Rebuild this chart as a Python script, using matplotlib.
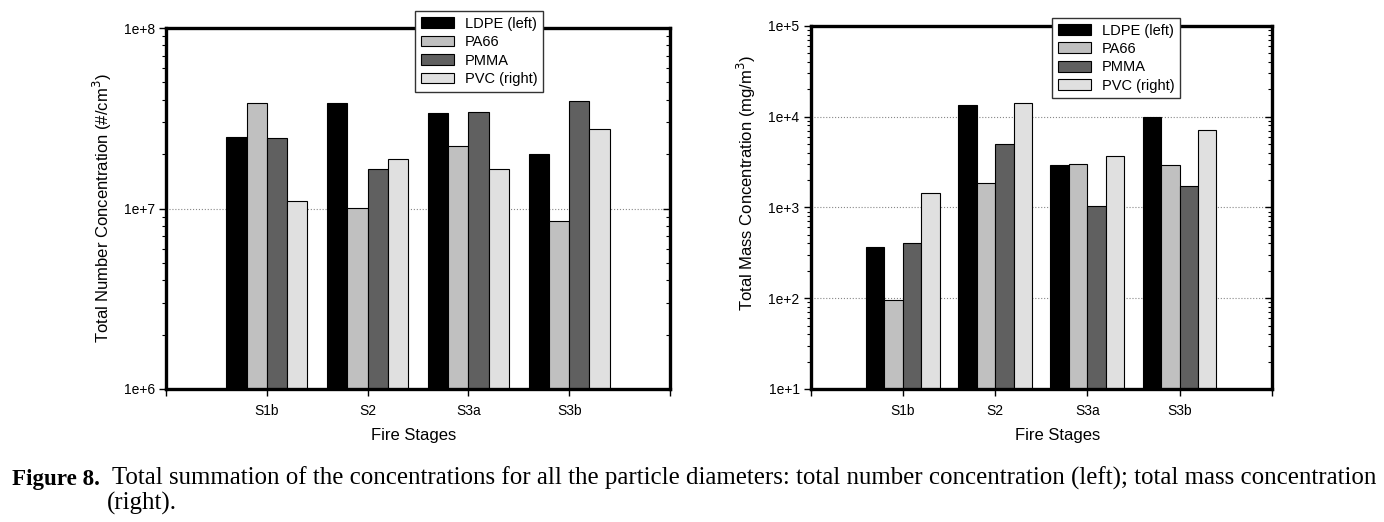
import numpy as np
import matplotlib
matplotlib.use("Agg")
import matplotlib.pyplot as plt
from matplotlib.ticker import LogLocator, FuncFormatter, NullFormatter

# data
stages = ["S1b", "S2", "S3a", "S3b"]
materials = ["LDPE (left)", "PA66", "PMMA", "PVC (right)"]
colors = ["#000000", "#c0c0c0", "#606060", "#e0e0e0"]

# total number concentration (#/cm3)
num_ldpe = [2.48e7, 3.85e7, 3.37e7, 2.0e7]
num_pa66 = [3.82e7, 1.01e7, 2.23e7, 8.55e6]
num_pmma = [2.45e7, 1.66e7, 3.44e7, 3.92e7]
num_pvc = [1.10e7, 1.88e7, 1.66e7, 2.77e7]

# total mass concentration (mg/m3)
mass_ldpe = [367, 13300, 2960, 9930]
mass_pa66 = [96, 1875, 3010, 2960]
mass_pmma = [406, 5000, 1030, 1727]
mass_pvc = [1455, 14200, 3690, 7080]

plt.rcParams['font.family'] = ['Liberation Sans', 'DejaVu Sans']

fig = plt.figure(figsize=(13.84, 5.22), dpi=100)
ax1 = fig.add_axes([166/1384, 1-389/522, 504/1384, 361/522])
ax2 = fig.add_axes([810.7/1384, 1-389/522, 461/1384, 363.3/522])


def fmt(v, pos):
    return "1e+%d" % int(round(np.log10(v)))


def draw(ax, series, ylim, ylabel, ylab_pos, xlab_pos, leg_anchor):
    x = np.arange(1, len(stages) + 1)
    w = 0.2
    handles = []
    for i, vals in enumerate(series):
        b = ax.bar(x + (i - 1.5) * w, vals, w, color=colors[i], edgecolor="black",
                   linewidth=0.8, label=materials[i], zorder=3)
        handles.append(b)
    ax.set_yscale("log")
    ax.set_ylim(*ylim)
    ax.set_xlim(0, 5)
    ax.set_xticks([0, 1, 2, 3, 4, 5])
    ax.set_xticklabels([""] + stages + [""], fontsize=10)
    ax.yaxis.set_major_locator(LogLocator(base=10, numticks=20))
    ax.yaxis.set_minor_locator(LogLocator(base=10, subs=np.arange(2, 10), numticks=20))
    ax.yaxis.set_major_formatter(FuncFormatter(fmt))
    ax.yaxis.set_minor_formatter(NullFormatter())
    ax.tick_params(axis="x", direction="out", length=5, width=1, pad=6)
    ax.tick_params(axis="y", which="major", direction="out", length=5, width=1, pad=3,
                   labelsize=10)
    ax.tick_params(axis="y", which="minor", direction="out", length=3, width=0.8)
    ax.grid(True, axis="y", which="major", linestyle=":", color="#888888",
            linewidth=0.8, zorder=0)
    for s in ax.spines.values():
        s.set_linewidth(2.4)
        s.set_zorder(5)

    # inward ticks on the right spine
    axr = ax.twinx()
    axr.set_yscale("log")
    axr.set_ylim(*ylim)
    axr.yaxis.set_major_locator(LogLocator(base=10, numticks=20))
    axr.yaxis.set_minor_locator(LogLocator(base=10, subs=np.arange(2, 10), numticks=20))
    axr.yaxis.set_major_formatter(NullFormatter())
    axr.yaxis.set_minor_formatter(NullFormatter())
    axr.tick_params(axis="y", which="major", direction="in", length=5, width=1)
    axr.tick_params(axis="y", which="minor", direction="in", length=3, width=0.8)
    for s in axr.spines.values():
        s.set_visible(False)

    ax.set_ylabel(ylabel, fontsize=12)
    ax.yaxis.set_label_coords(*ylab_pos)
    ax.set_xlabel("Fire Stages", fontsize=12)
    ax.xaxis.set_label_coords(*xlab_pos)
    leg = fig.legend(handles=handles, loc="upper left", bbox_to_anchor=leg_anchor,
                     bbox_transform=fig.transFigure, fontsize=10.5, frameon=True,
                     fancybox=False, framealpha=1, edgecolor="#333333",
                     handlelength=2.3, handleheight=0.75, labelspacing=0.3,
                     borderpad=0.4, handletextpad=0.7, borderaxespad=0)
    leg.get_frame().set_linewidth(1.0)
    leg.set_zorder(10)


draw(ax1, [num_ldpe, num_pa66, num_pmma, num_pvc], (1e6, 1e8),
     "Total Number Concentration (#/cm$^3$)", (-0.103, 0.5), (0.492, -0.108),
     (415/1384, 1-11/522))
draw(ax2, [mass_ldpe, mass_pa66, mass_pmma, mass_pvc], (1e1, 1e5),
     "Total Mass Concentration (mg/m$^3$)", (-0.114, 0.567), (0.536, -0.108),
     (1052/1384, 1-17.7/522))

# caption
W, H = 1384, 522
serif = ['Liberation Serif', 'DejaVu Serif']
rest = ("Total summation of the concentrations for all the particle diameters: "
        "total number concentration (left); total mass concentration")
renderer = fig.canvas.get_renderer()
t1 = fig.text(12/W, 1-485/H, "Figure 8.", family=serif, fontweight="bold",
              fontsize=14, va="baseline")
t2 = fig.text(112/W, 1-485/H, rest, family=serif, fontsize=14, va="baseline")
wd = t2.get_window_extent(renderer).width
t2.set_fontsize(14 * (1380 - 112) / wd)
fs = t2.get_fontsize()
t1w = t1.get_window_extent(renderer).width
t1.set_fontsize(14 * (100 - 12) / t1w)
fig.text(107/W, 1-510/H, "(right).", family=serif, fontsize=fs, va="baseline")

fig.savefig("out.png", dpi=100)
